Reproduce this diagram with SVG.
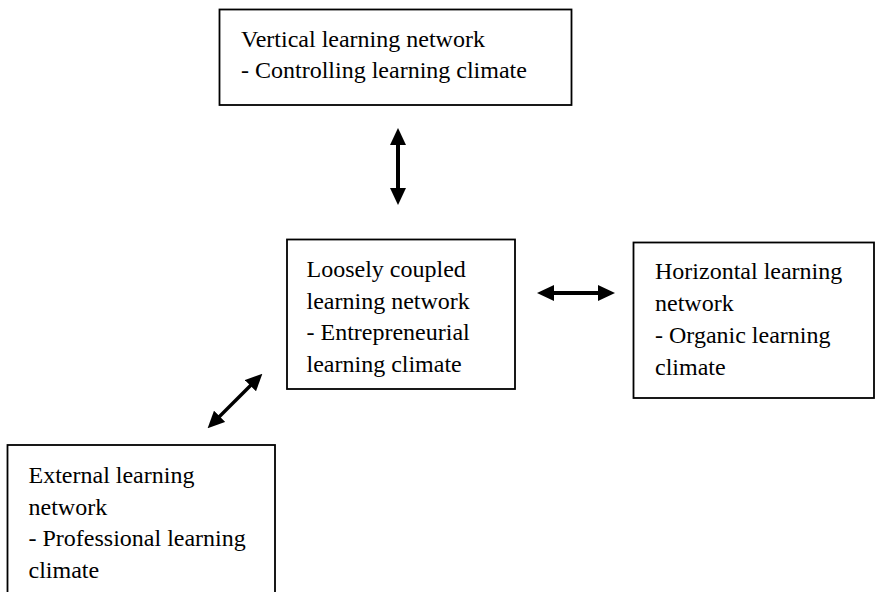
<svg xmlns="http://www.w3.org/2000/svg" width="876" height="592" viewBox="0 0 876 592">
<style>
.box{fill:#fff;stroke:#000;stroke-width:1.8}
.t{font-family:"Liberation Serif","Times New Roman",serif;font-size:24px;fill:#000}
.arr{stroke:#000;stroke-width:4;fill:none;marker-start:url(#ah);marker-end:url(#ah)}
</style>
<defs>
<marker id="ah" markerUnits="userSpaceOnUse" markerWidth="17" markerHeight="16" refX="8" refY="8" orient="auto-start-reverse" viewBox="0 0 17 16">
<path d="M0,0 L17,8 L0,16 z" fill="#000"/>
</marker>
</defs>
<rect width="876" height="592" fill="#fff"/>
<g id="vertical">
<rect class="box" x="219.5" y="9.5" width="352" height="95.5"/>
<text class="t" x="241" y="46.5">Vertical learning network</text>
<text class="t" x="241" y="78">- Controlling learning climate</text>
</g>
<g id="loosely">
<rect class="box" x="287" y="239.5" width="228" height="149.5"/>
<text class="t" x="306.5" y="277">Loosely coupled</text>
<text class="t" x="306.5" y="308.5">learning network</text>
<text class="t" x="306.5" y="340">- Entrepreneurial</text>
<text class="t" x="306.5" y="371.5">learning climate</text>
</g>
<g id="horizontal">
<rect class="box" x="633.5" y="242.5" width="240.5" height="155.5"/>
<text class="t" x="655" y="278.5">Horizontal learning</text>
<text class="t" x="655" y="310.5">network</text>
<text class="t" x="655" y="342.5">- Organic learning</text>
<text class="t" x="655" y="374.5">climate</text>
</g>
<g id="external">
<rect class="box" x="7.5" y="445" width="267.5" height="160"/>
<text class="t" x="28.5" y="483">External learning</text>
<text class="t" x="28.5" y="514.5">network</text>
<text class="t" x="28.5" y="546">- Professional learning</text>
<text class="t" x="28.5" y="577.5">climate</text>
</g>
<g id="connectors">
<line class="arr" x1="398" y1="137" x2="398" y2="196"/>
<line class="arr" x1="546" y1="293" x2="606" y2="293"/>
<line class="arr" x1="214" y1="422" x2="256" y2="380" style="stroke-width:3.4"/>
</g>
</svg>
